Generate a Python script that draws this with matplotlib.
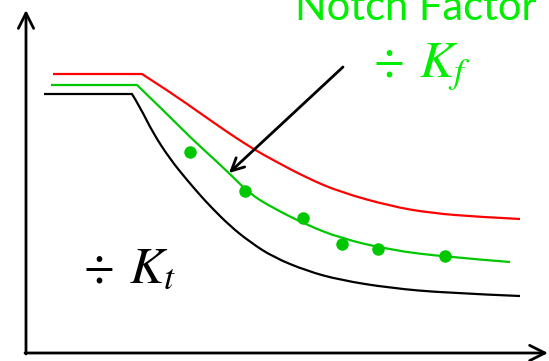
import matplotlib
matplotlib.use("Agg")
import matplotlib.pyplot as plt
from matplotlib.path import Path
from matplotlib.patches import PathPatch

# Fatigue (S-N style) curves, in drawing units (x to the right, y downward)
red_x = [53, 142, 170, 200, 230, 255, 273, 307, 340, 390, 430, 480, 520]
red_y = [74, 74, 92, 113, 134, 150, 160, 178, 192, 206, 213, 217, 219]

green_x = [51, 137, 165, 192, 215, 232, 250, 273, 307, 340, 390, 447, 510]
green_y = [85, 85, 112, 139, 160, 176, 194, 208, 225, 238, 250, 257, 262]

black_x = [44, 132, 140, 153, 170, 187, 200, 210, 230, 250, 273, 307, 340, 390, 447, 520]
black_y = [94, 94, 107, 133, 159, 180, 195, 206, 226, 242, 257, 271, 280, 288, 293, 296]

# Test data points around the notched curve
dots_x = [190, 245, 303, 342, 378, 445]
dots_y = [152, 191, 218, 244, 249, 256]

title_text = "Notch Factor"
kf_label = r"$\div\;\,K_f$"
kt_label = r"$\div\;\,K_t$"

W, H = 549, 361
fig = plt.figure(figsize=(W / 100, H / 100), dpi=100)
ax = fig.add_axes([0, 0, 1, 1])
ax.set_xlim(0, W)
ax.set_ylim(H, 0)
ax.axis("off")

plt.rcParams["mathtext.fontset"] = "stix"

LINE_GREEN = "#00c800"
TEXT_GREEN = "#00ee00"


def smooth_curve(xs, ys, color):
    """Flat plateau, then a quadratic B-spline through the knee-down knots."""
    pts = list(zip(xs, ys))
    verts = [pts[0], pts[1]]
    codes = [Path.MOVETO, Path.LINETO]
    rest = pts[1:]
    for i in range(1, len(rest) - 1):
        ctrl = rest[i]
        if i < len(rest) - 2:
            nxt = rest[i + 1]
            end = ((ctrl[0] + nxt[0]) / 2, (ctrl[1] + nxt[1]) / 2)
        else:
            end = rest[i + 1]
        verts += [ctrl, end]
        codes += [Path.CURVE3, Path.CURVE3]
    patch = PathPatch(Path(verts, codes), facecolor="none", edgecolor=color,
                      lw=1.6, capstyle="butt", joinstyle="round")
    ax.add_patch(patch)


# axes with open arrowheads
axis_style = dict(arrowstyle="->,head_length=1.1,head_width=0.55", lw=2.0, color="black",
                  shrinkA=0, shrinkB=0)
ax.annotate("", xy=(26, 10), xytext=(26, 354), arrowprops=axis_style)
ax.annotate("", xy=(548, 353), xytext=(25, 353), arrowprops=axis_style)

smooth_curve(red_x, red_y, "red")
smooth_curve(green_x, green_y, LINE_GREEN)
smooth_curve(black_x, black_y, "black")
ax.plot(dots_x, dots_y, "o", color=LINE_GREEN, ms=9, mew=0)

# pointer to the notched curve
ax.annotate("", xy=(229, 173), xytext=(343, 67),
            arrowprops=dict(arrowstyle="->,head_length=0.9,head_width=0.45", lw=2.0,
                            color="black", shrinkA=0, shrinkB=0))

ax.text(537, 20, title_text, color=TEXT_GREEN, fontsize=30, family="Lato",
        ha="right", va="baseline")
ax.text(374, 77, kf_label, color=TEXT_GREEN, fontsize=37, ha="left", va="baseline")
ax.text(84, 283, kt_label, color="black", fontsize=37, ha="left", va="baseline")

fig.savefig("out.png", dpi=100)
